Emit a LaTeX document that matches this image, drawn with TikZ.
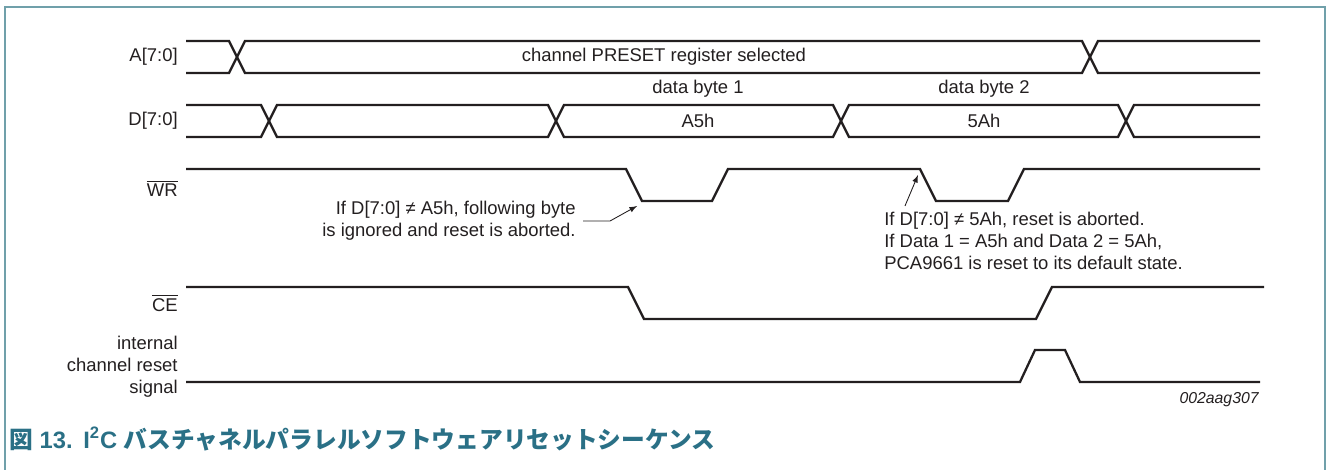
\documentclass[tikz,border=0pt]{standalone}
\usepackage{fontspec}
\setmainfont{Liberation Sans}
\newfontfamily\cjk{Noto Sans CJK JP}
\usepackage{xcolor}
\usepackage{tikz}
\usetikzlibrary{arrows}
\definecolor{moldura}{RGB}{112,160,170}
\definecolor{legenda}{RGB}{42,112,134}
\definecolor{traco}{RGB}{35,31,32}

\begin{document}
\begin{tikzpicture}[x=0.02cm, y=-0.02cm,
  sinal/.style={traco, line width=1.3pt},
  rotulo/.style={anchor=east, inner sep=0pt, text=traco, font=\fontsize{10.5}{12.5}\selectfont},
  texto/.style={inner sep=0pt, text=traco, font=\fontsize{10.5}{12.5}\selectfont},
  seta/.style={-latex, traco, line width=0.5pt},
  titulo/.style={anchor=base west, inner sep=0pt, text=legenda, font=\bfseries\fontsize{13.5}{16}\selectfont}]

\useasboundingbox (0,0) rectangle (1326,470);

% moldura
\draw[moldura, line width=0.9pt] (5,470) -- (5,7) -- (1325,7) -- (1325,470);

% A[7:0]
\node[rotulo] (rotA) at (178,57) {A[7:0]};
\draw[sinal] (186,41) -- (229,41) -- (245,73) -- (1082,73) -- (1098,41) -- (1260,41);
\draw[sinal] (186,73) -- (229,73) -- (245,41) -- (1082,41) -- (1098,73) -- (1260,73);
\node[texto] (regA) at (664,57) {channel PRESET register selected};

% D[7:0]
\node[rotulo] (rotD) at (178,121) {D[7:0]};
\draw[sinal] (186,105) -- (261,105) -- (277,137) -- (548,137) -- (564,105) -- (833,105)
  -- (849,137) -- (1118,137) -- (1134,105) -- (1260,105);
\draw[sinal] (186,137) -- (261,137) -- (277,105) -- (548,105) -- (564,137) -- (833,137)
  -- (849,105) -- (1118,105) -- (1134,137) -- (1260,137);
\node[texto] (byte1) at (698,89) {data byte 1};
\node[texto] (valor1) at (698,121) {A5h};
\node[texto] (byte2) at (984,89) {data byte 2};
\node[texto] (valor2) at (984,121) {5Ah};

% WR
\node[rotulo] (rotWR) at (178,188) {$\overline{\mbox{WR}}$};
\draw[sinal] (186,169) -- (626,169) -- (642,201) -- (712,201) -- (728,169) -- (920,169)
  -- (936,201) -- (1008,201) -- (1024,169) -- (1260,169);

% notas
\node[texto, align=right, anchor=east] (notaA) at (576,221)
  {If D[7:0] ≠ A5h, following byte\\is ignored and reset is aborted.};
\coordinate (dobraA) at (610,221);
\coordinate (alvoA) at (637,206);
\draw[seta] ([xshift=1.4mm]notaA.east) -- (dobraA) -- (alvoA);

\node[texto, align=left, anchor=west] (notaB) at (884,241)
  {If D[7:0] ≠ 5Ah, reset is aborted.\\If Data 1 = A5h and Data 2 = 5Ah,\\PCA9661 is reset to its default state.};
\coordinate (alvoB) at (918,175);
\draw[seta] ([xshift=4.2mm,yshift=1.2mm]notaB.north west) -- (alvoB);

% CE
\node[rotulo] (rotCE) at (178,303) {$\overline{\mbox{CE}}$};
\draw[sinal] (186,287) -- (628,287) -- (644,319) -- (1036,319) -- (1052,287) -- (1264,287);

% reset interno
\node[rotulo, align=right] (rotRST) at (178,367) {internal\\channel reset\\signal};
\draw[sinal] (186,382) -- (1020,382) -- (1035,350) -- (1065,350) -- (1080,382) -- (1260,382);

\node[texto, anchor=east, font=\itshape\fontsize{9}{11}\selectfont] (codigo) at (1259,400) {002aag307};

% legenda
\node[titulo] (fig) at (9,448) {{\cjk 図} 13.};
\node[titulo] (legenda) at (83,448) {I\textsuperscript{2}C {\cjk バスチャネルパラレルソフトウェアリセットシーケンス}};

\end{tikzpicture}
\end{document}
